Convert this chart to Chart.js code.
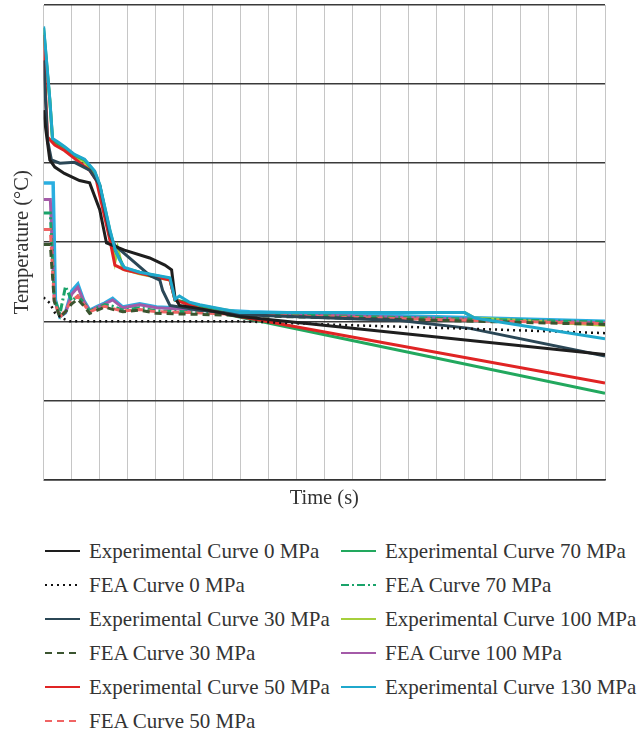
<!DOCTYPE html>
<html>
<head>
<meta charset="utf-8">
<script src="https://cdn.jsdelivr.net/npm/chart.js@4.4.0/dist/chart.umd.min.js"></script>
<style>
body { margin: 0; background: #fff; }
#wrap { position: relative; width: 640px; height: 739px; }
#chartBox { position: absolute; left: 0; top: 0; width: 640px; height: 520px; }
#legend { position: absolute; left: 0; top: 534px; width: 640px; font-family: "Liberation Serif", serif; font-size: 21px; color: #333; }
.item { position: absolute; height: 34px; display: flex; align-items: center; white-space: nowrap; }
.item svg { margin-right: 9px; }
</style>
</head>
<body>
<div id="wrap">
  <div id="chartBox"><canvas id="temp-graph"></canvas></div>
  <div id="legend"></div>
</div>
<script>
// time (s) and temperature (°C)
const exp0Time = [0, 4, 11, 20, 37, 64, 82, 100, 112, 144, 189, 216, 228, 234, 242, 278, 349, 1000]
const exp0Temp = [467, 442, 404, 395, 387, 378, 375, 341, 299, 290, 280, 271, 265, 230, 220, 216, 206, 158]

const fea0Time = [0, 11, 20, 32, 46, 349, 545, 783, 1000]
const fea0Temp = [230, 223, 211, 204, 200, 200, 195, 190, 185]

const exp30Time = [0, 7, 14, 29, 55, 82, 100, 118, 127, 189, 207, 212, 225, 278, 367, 635, 759, 1000]
const exp30Temp = [530, 429, 404, 400, 401, 391, 372, 309, 296, 258, 252, 239, 220, 214, 208, 201, 191, 156]

const feaTime = [0, 12, 19, 29, 39, 50, 61, 71, 82, 96, 109, 123, 141, 171, 201, 260, 367, 1000]
const fea30Temp = [297, 297, 225, 205, 212, 222, 228, 220, 210, 214, 218, 215, 212, 214, 210, 209, 207, 196]

const exp50Time = [0, 4, 7, 20, 37, 64, 82, 94, 118, 127, 144, 225, 234, 278, 349, 1000]
const exp50Temp = [562, 480, 433, 423, 416, 401, 391, 378, 303, 271, 265, 252, 227, 216, 206, 122]

const fea50Temp = [316, 316, 226, 205, 214, 226, 232, 222, 212, 216, 219, 216, 213, 215, 212, 211, 208, 197]

const exp70Time = [0, 11, 16, 25, 37, 55, 73, 91, 100, 118, 127, 135, 144, 171, 225, 234, 260, 278, 332, 1000]
const exp70Temp = [571, 480, 429, 425, 420, 410, 404, 389, 372, 315, 290, 280, 267, 262, 254, 227, 223, 220, 208, 109]

const fea70Temp = [337, 337, 230, 209, 244, 226, 232, 224, 213, 217, 221, 219, 214, 217, 213, 212, 209, 199]

const exp100Time = [0, 11, 16, 25, 37, 55, 73, 91, 100, 118, 127, 132, 141, 171, 225, 234, 260, 278, 349, 750, 768, 1000]
const exp100Temp = [565, 480, 429, 423, 418, 408, 402, 387, 370, 312, 275, 292, 266, 260, 252, 227, 222, 220, 211, 211, 204, 195]

const fea100Temp = [354, 354, 228, 207, 211, 234, 243, 226, 213, 218, 222, 227, 217, 221, 217, 215, 210, 198]

const exp130Time = [0, 11, 16, 25, 37, 55, 73, 91, 100, 118, 127, 135, 144, 171, 225, 234, 242, 260, 278, 349, 750, 768, 1000]
const exp130Temp = [573, 482, 431, 427, 421, 411, 405, 390, 373, 316, 292, 278, 268, 262, 255, 228, 232, 224, 221, 211, 211, 204, 178]

// extra light blue simulation curve in the plot, not listed in the legend
const fea130Time = [0, 17, 21, 29, 39, 50, 61, 71, 82, 96, 109, 123, 141, 171, 201, 260, 367, 1000]
const fea130Temp = [375, 375, 227, 206, 211, 238, 247, 227, 214, 219, 223, 229, 218, 222, 218, 216, 212, 200]

const pts = (xs, ys) => xs.map((x, i) => ({ x: x, y: ys[i] }))

const serif = '"Liberation Serif", "Times New Roman", serif'

const datasets = [
    { label: 'Experimental Curve 0 MPa', data: pts(exp0Time, exp0Temp), borderColor: '#1e1e1e', borderWidth: 3 },
    { label: 'FEA Curve 0 MPa', data: pts(fea0Time, fea0Temp), borderColor: '#111', borderWidth: 2.5, borderDash: [2, 4] },
    { label: 'Experimental Curve 30 MPa', data: pts(exp30Time, exp30Temp), borderColor: '#2b4756', borderWidth: 3 },
    { label: 'FEA Curve 30 MPa', data: pts(feaTime, fea30Temp), borderColor: '#3b5530', borderWidth: 3, borderDash: [7, 5] },
    { label: 'Experimental Curve 50 MPa', data: pts(exp50Time, exp50Temp), borderColor: '#e02424', borderWidth: 3 },
    { label: 'FEA Curve 50 MPa', data: pts(feaTime, fea50Temp), borderColor: '#f06464', borderWidth: 3, borderDash: [7, 5] },
    { label: 'Experimental Curve 70 MPa', data: pts(exp70Time, exp70Temp), borderColor: '#22a85e', borderWidth: 3 },
    { label: 'FEA Curve 70 MPa', data: pts(feaTime, fea70Temp), borderColor: '#1aa36a', borderWidth: 3, borderDash: [8, 3, 2, 3] },
    { label: 'Experimental Curve 100 MPa', data: pts(exp100Time, exp100Temp), borderColor: '#a6cf3c', borderWidth: 3 },
    { label: 'FEA Curve 100 MPa', data: pts(feaTime, fea100Temp), borderColor: '#a45aa8', borderWidth: 3 },
    { label: 'Experimental Curve 130 MPa', data: pts(exp130Time, exp130Temp), borderColor: '#1fa8cc', borderWidth: 3, order: -1 },
    { label: 'FEA Curve 130 MPa', data: pts(fea130Time, fea130Temp), borderColor: '#2aaee0', borderWidth: 3.5, inLegend: false }
]

const chart = new Chart('temp-graph', {
    type: 'line',
    data: { datasets: datasets },
    options: {
        responsive: true,
        maintainAspectRatio: false,
        animation: false,
        layout: { padding: { left: 0, right: 35, top: 5, bottom: 5 } },
        elements: { point: { radius: 0 }, line: { tension: 0, fill: false } },
        plugins: { legend: { display: false }, tooltip: { enabled: false } },
        scales: {
            x: {
                type: 'linear', min: 0, max: 1000,
                ticks: { display: false, stepSize: 50 },
                grid: { color: '#c6c6c6', lineWidth: 1, drawTicks: false },
                border: { color: '#333', width: 1.5 },
                title: { display: true, text: 'Time (s)', color: '#333', font: { family: serif, size: 20.5 }, padding: { top: 7, bottom: 4 } }
            },
            y: {
                min: 0, max: 600,
                ticks: { display: false, stepSize: 100 },
                grid: { color: '#3a3a3a', lineWidth: 1.5, drawTicks: false },
                border: { color: '#c6c6c6', width: 1 },
                title: { display: true, text: 'Temperature (°C)', color: '#333', font: { family: serif, size: 20.5 }, padding: { top: 10, bottom: 9 } }
            }
        }
    }
})

// legend in two columns, built from the datasets
const legendEl = document.getElementById('legend')
const shown = chart.data.datasets.filter(d => d.inLegend !== false)
shown.forEach((d, i) => {
    const col = i < 6 ? 0 : 1
    const row = i < 6 ? i : i - 6
    const item = document.createElement('div')
    item.className = 'item'
    item.style.left = (col ? 341 : 45) + 'px'
    item.style.top = (row * 34) + 'px'
    const dash = d.borderDash ? d.borderDash.join(',') : 'none'
    item.innerHTML = '<svg width="35" height="10"><line x1="0" y1="5" x2="35" y2="5" stroke="' + d.borderColor +
        '" stroke-width="2" stroke-dasharray="' + dash + '"/></svg><span>' + d.label + '</span>'
    legendEl.appendChild(item)
})
</script>
</body>
</html>
